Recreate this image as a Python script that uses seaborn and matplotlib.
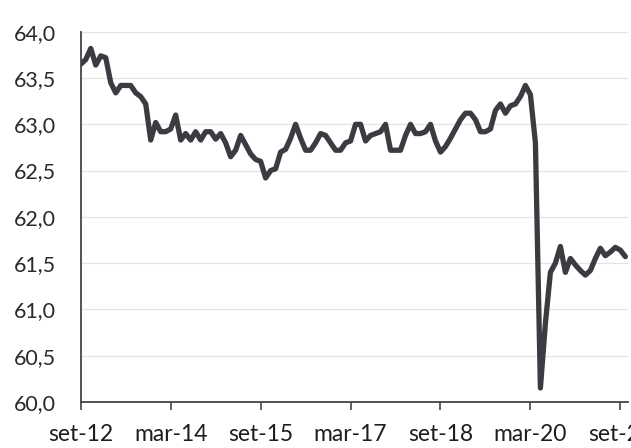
import matplotlib
matplotlib.use("Agg")
import matplotlib.pyplot as plt
import seaborn as sns
import pandas as pd

# monthly series, set-12 .. out-21
values = [
    63.65, 63.70, 63.82, 63.64, 63.74, 63.72, 63.45, 63.34, 63.42, 63.42,
    63.42, 63.34, 63.30, 63.22, 62.83, 63.02, 62.92, 62.92, 62.95, 63.10,
    62.83, 62.90, 62.83, 62.92, 62.83, 62.92, 62.92, 62.84, 62.90, 62.80,
    62.65, 62.72, 62.88, 62.78, 62.68, 62.62, 62.60, 62.42, 62.50, 62.52,
    62.70, 62.73, 62.85, 63.00, 62.85, 62.72, 62.72, 62.80, 62.90, 62.88,
    62.80, 62.72, 62.72, 62.80, 62.82, 63.00, 63.00, 62.82, 62.88, 62.90,
    62.92, 63.00, 62.72, 62.72, 62.72, 62.88, 63.00, 62.90, 62.90, 62.92,
    63.00, 62.82, 62.70, 62.76, 62.85, 62.95, 63.05, 63.12, 63.12, 63.05,
    62.92, 62.92, 62.95, 63.15, 63.22, 63.12, 63.20, 63.22, 63.30, 63.42,
    63.32, 62.80, 60.15, 60.85, 61.40, 61.50, 61.68, 61.40, 61.55, 61.48,
    61.42, 61.37, 61.42, 61.55, 61.66, 61.58, 61.62, 61.67, 61.64, 61.57,
]
tick_months = [0, 18, 36, 54, 72, 90, 108]
tick_labels = ["set-12", "mar-14", "set-15", "mar-17", "set-18", "mar-20", "set-21"]
y_ticks = [60.0, 60.5, 61.0, 61.5, 62.0, 62.5, 63.0, 63.5, 64.0]

df = pd.DataFrame({"month": range(len(values)), "value": values})

sns.set_theme(style="white")
plt.rcParams["font.family"] = ["Lato", "DejaVu Sans"]

fig = plt.figure(figsize=(6.31, 4.48), dpi=100)
ax = fig.add_axes([0.128, 0.103, 0.867, 0.826])

sns.lineplot(data=df, x="month", y="value", ax=ax, color="#3b3b42", linewidth=3.8)

ax.set_xlim(0, 109.5)
ax.set_ylim(60, 64)
ax.set_yticks(y_ticks)
ax.set_yticklabels([f"{v:.1f}".replace(".", ",") for v in y_ticks], fontsize=15.5, color="#2a2a2a")
ax.set_xticks(tick_months)
# last label is clipped by the figure edge, as in the original
ax.set_xticklabels(tick_labels, fontsize=16.5, color="#1e1e1e")
ax.set_xlabel("")
ax.set_ylabel("")

ax.grid(axis="y", color="#e4e4e4", linewidth=0.9)
ax.set_axisbelow(True)
for side in ["top", "right"]:
    ax.spines[side].set_visible(False)
ax.spines["left"].set_color("#444444")
ax.spines["bottom"].set_color("#444444")
ax.spines["left"].set_linewidth(1.3)
ax.spines["bottom"].set_linewidth(1.3)
ax.tick_params(axis="x", bottom=True, length=6, width=1.2, color="#444444", pad=10)
ax.tick_params(axis="y", left=False, pad=12)

fig.savefig("out.png", dpi=100)
